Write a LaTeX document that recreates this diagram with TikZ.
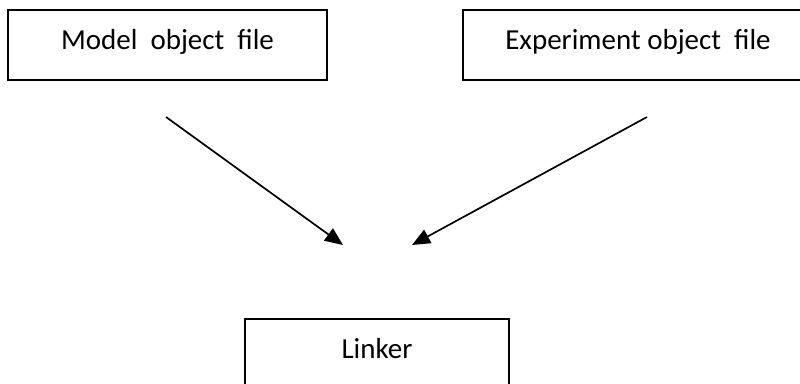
\documentclass[tikz,border=0pt]{standalone}
\usepackage{fontspec}
\setmainfont{Carlito}
\usetikzlibrary{arrows.meta}
\begin{document}
\begin{tikzpicture}[x=1pt,y=-1pt,
  box/.style={draw=black,line width=2pt,rectangle,minimum height=70pt,inner sep=0pt,
    font=\fontsize{29}{35}\selectfont,text height=19pt,text depth=10pt},
  conn/.style={draw=black,line width=1.7pt,-{Triangle[length=18pt,width=15pt]}}]
\useasboundingbox (0,0) rectangle (800,383);
\begin{scope}
\clip (0,0) rectangle (800,383);
\node[box,minimum width=319pt] (model) at (167.5,45) {Model\hspace{0.45em}object\hspace{0.45em}file};
\node[box,minimum width=350pt] (exp) at (638,45) {Experiment object\hspace{0.45em}file};
\node[box,minimum width=264pt] (linker) at (377,354) {Linker};
\end{scope}
\coordinate (s1) at (166,117);
\coordinate (e1) at (343,245);
\coordinate (s2) at (647,117);
\coordinate (e2) at (412,245);
\draw[conn] (s1) -- (e1);
\draw[conn] (s2) -- (e2);
\end{tikzpicture}
\end{document}
